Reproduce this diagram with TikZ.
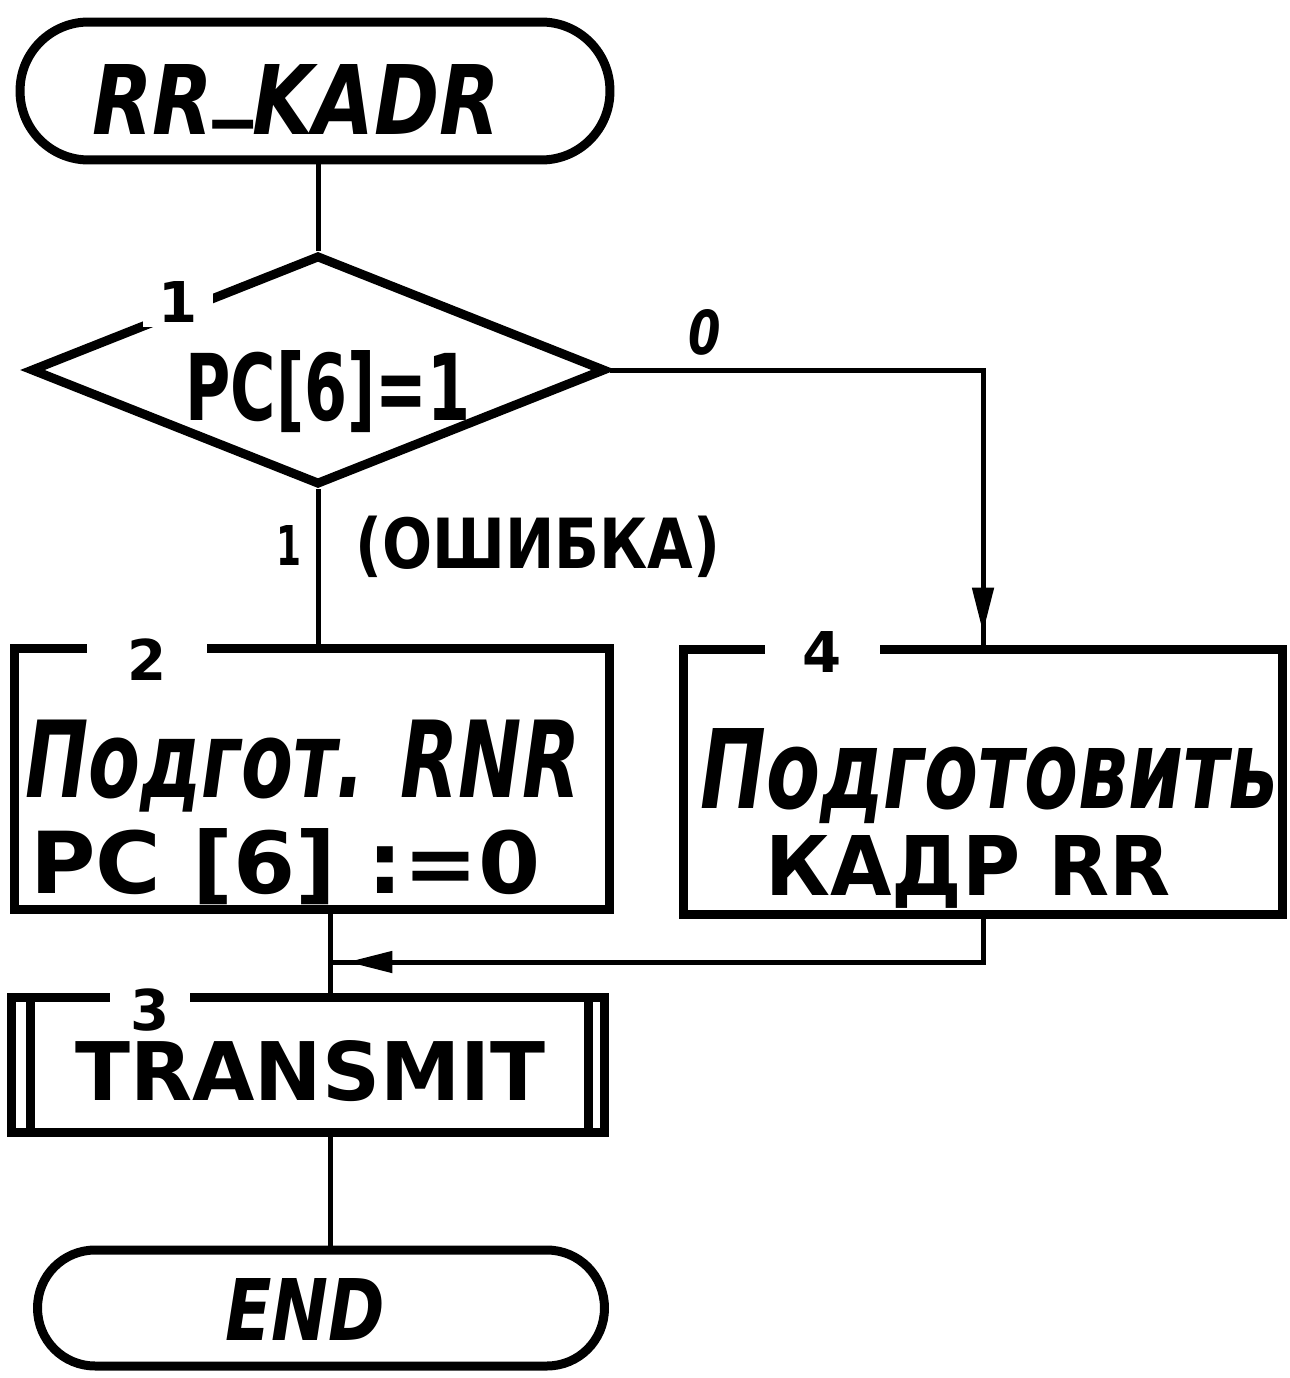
\documentclass[tikz,border=0pt]{standalone}
\usepackage{graphicx}
\usepackage{fontspec}
\setmainfont{DejaVu Sans}
\usetikzlibrary{shapes.geometric,arrows.meta,decorations.markings}
\begin{document}
\begin{tikzpicture}[x=0.02cm,y=-0.02cm,
  shapeline/.style={draw=black, line width=0.18cm},
  term/.style={shapeline, rectangle, inner sep=0},
  proc/.style={shapeline, rectangle, inner sep=0},
  dec/.style={shapeline, diamond, inner sep=0, aspect=2.5},
  conn/.style={line width=0.1cm},
  tipmark/.style={postaction={decorate}, decoration={markings, mark=at position #1 with {\arrow{Triangle[length=0.9cm,width=0.42cm]}}}},
  tx/.style={inner sep=0, anchor=base west, font=\bfseries},
  num/.style={fill=white, inner sep=0, font=\bfseries\fontsize{32}{34}\selectfont},
]
\useasboundingbox (0,0) rectangle (1290,1378);
\fill[white] (0,0) rectangle (1290,1378);

% shapes
\node[term, minimum width=11.8cm, minimum height=2.76cm, rounded corners=1.37cm] (start) at (315,91) {};
\node[dec, minimum width=11.5cm, minimum height=4.6cm] (dec1) at (318,370) {};
\node[proc, minimum width=11.9cm, minimum height=5.24cm] (p2) at (312,779) {};
\node[proc, minimum width=12cm, minimum height=5.3cm] (p4) at (983,782) {};
\node[proc, minimum width=11.86cm, minimum height=2.7cm] (p3) at (308,1065) {};
\draw[shapeline] ([xshift=0.46cm]p3.north west) -- ([xshift=0.46cm]p3.south west);
\draw[shapeline] ([xshift=-0.4cm]p3.north east) -- ([xshift=-0.4cm]p3.south east);
\node[term, minimum width=11.34cm, minimum height=2.32cm, rounded corners=1.15cm] (stop) at (321,1308) {};

% connectors
\coordinate (spine) at (330,0);
\coordinate (join) at (330,962);
\draw[conn] (dec1.north |- start.south) -- (dec1.north);
\draw[conn] (dec1.south) -- (dec1.south |- p2.north);
\draw[conn, tipmark=-0.25cm] (dec1.east) -| (p4.north);
\draw[conn] (p2.south -| spine) -- (p3.north -| spine);
\draw[conn, tipmark=-0.35cm] (p4.south) |- (join);
\draw[conn] (p3.south -| spine) -- (stop.north -| spine);

% texts
\node[tx] (t1) at (92,135) {\resizebox{8.16cm}{1.4cm}{\itshape RR\raisebox{0.3em}{\_}KADR}};
\node[tx] (t2) at (185,420) {\resizebox{5.7cm}{1.4cm}{PC[6]=1}};
\node[num, minimum width=1.4cm, minimum height=1.0cm] (n1) at (178,302) {1};
\node[tx] (t0) at (688,355) {\resizebox{0.65cm}{0.9cm}{\itshape 0}};
\node[tx] (tb1) at (276,565) {\resizebox{0.5cm}{0.8cm}{1}};
\node[tx] (terr) at (355,568) {\resizebox{7.3cm}{1.05cm}{(ОШИБКА)}};
\node[num, minimum width=2.4cm, minimum height=1cm] (n2) at (147,660) {2};
\node[tx] (t2a) at (25,797) {\resizebox{11.1cm}{1.55cm}{\itshape Подгот. RNR}};
\node[tx] (t2b) at (30,893) {\resizebox{10.2cm}{1.3cm}{PC [6] :=0}};
\node[num, minimum width=2.3cm, minimum height=1cm] (n4) at (822,652) {4};
\node[tx] (t4a) at (700,808) {\resizebox{11.56cm}{1.6cm}{\itshape Подготовить}};
\node[tx] (t4b) at (765,895) {\resizebox{8.1cm}{1.2cm}{КАДР RR}};
\node[num, minimum width=1.6cm, minimum height=0.9cm] (n3) at (150,1010) {3};
\node[tx] (t3) at (75,1100) {\resizebox{9.4cm}{1.2cm}{TRANSMIT}};
\node[tx] (t5) at (225,1340) {\resizebox{3.2cm}{1.24cm}{\itshape END}};
\end{tikzpicture}
\end{document}
